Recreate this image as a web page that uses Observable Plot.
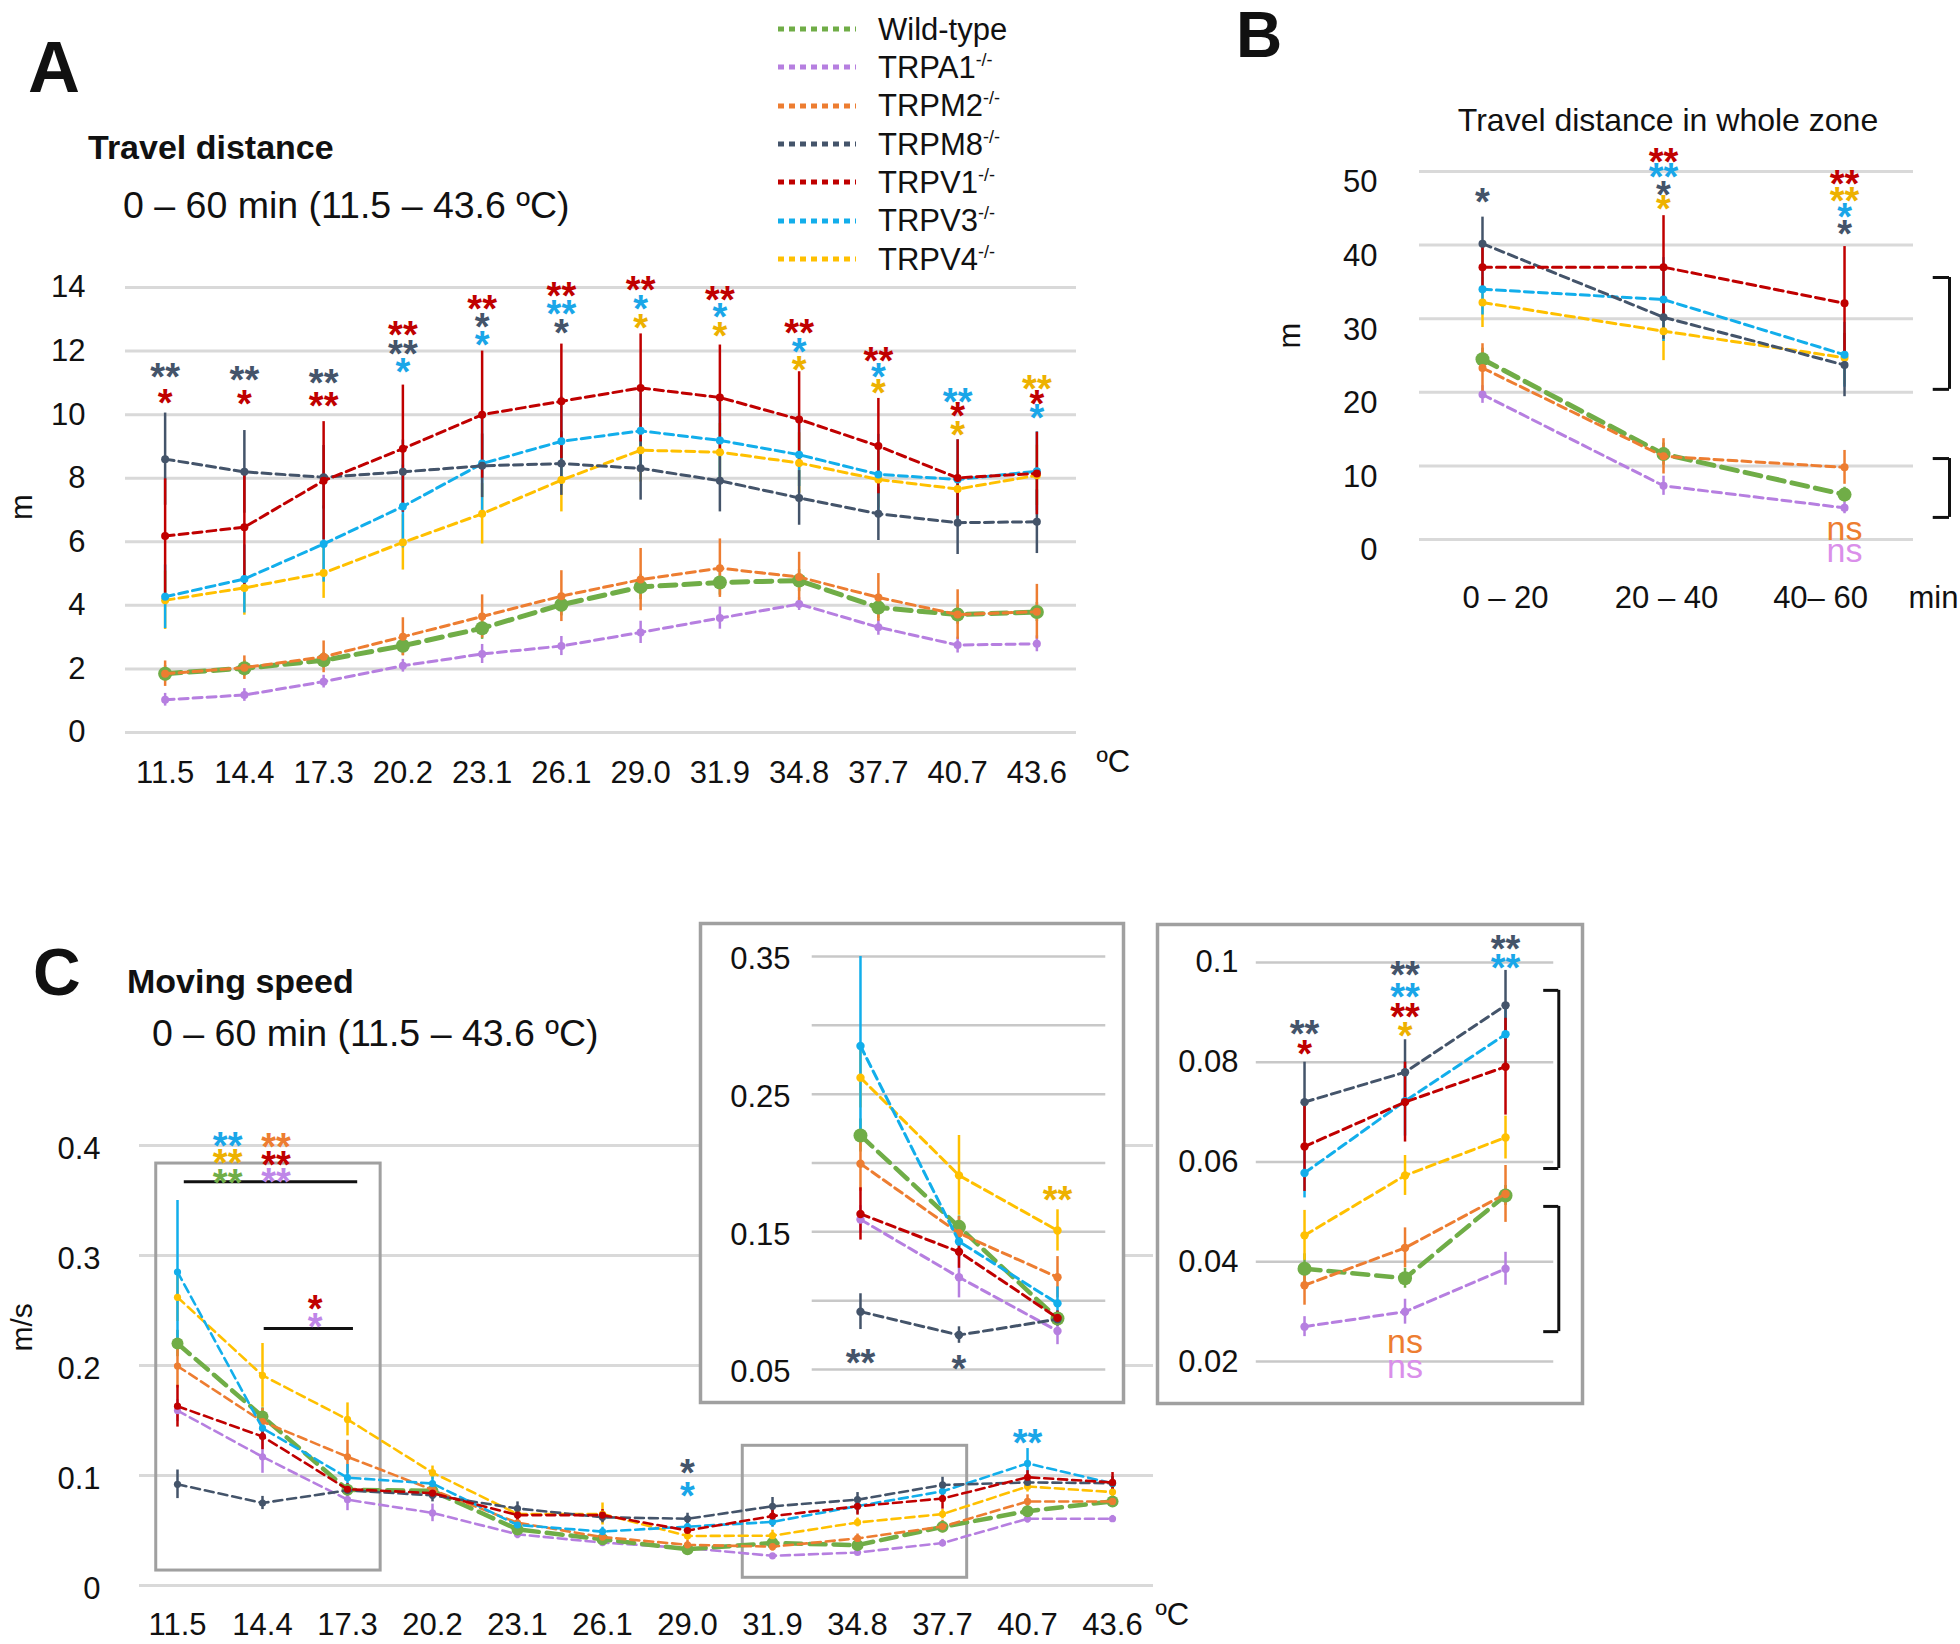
<!DOCTYPE html>
<html><head><meta charset="utf-8">
<script src="https://cdn.jsdelivr.net/npm/d3@7"></script>
<script src="https://cdn.jsdelivr.net/npm/@observablehq/plot@0.6"></script>
<style>
body{margin:0;background:#fff;}
#root{position:relative;width:1960px;height:1644px;background:#fff;font-family:"Liberation Sans",Arial,Helvetica,sans-serif;color:#111;overflow:hidden;}
.abs{position:absolute;white-space:nowrap;line-height:1;}
#root svg{position:absolute;}
</style></head><body><div id="root"></div>
<script>
// ---------- categories & colours ----------
const series = ["Wild-type","TRPA1","TRPM2","TRPM8","TRPV1","TRPV3","TRPV4"];
const seriesColors = ["#70AD47","#B67FE0","#ED7D31","#44546A","#C00000","#12AEEB","#FFC000"];
const drawOrder = ["TRPA1","Wild-type","TRPM2","TRPV4","TRPV3","TRPM8","TRPV1"];
const tempLabels = ["11.5","14.4","17.3","20.2","23.1","26.1","29.0","31.9","34.8","37.7","40.7","43.6"];
const periodLabels = ["0 – 20","20 – 40","40– 60"];
const periodLabelShift = [23,3,-24];

// ---------- Panel A: travel distance (m) per temperature ----------
const distWT   = [1.85,2.02,2.27,2.73,3.28,4.02,4.58,4.72,4.78,3.93,3.71,3.79];
const distWTse = [0.25,0.25,0.25,0.3,0.35,0.35,0.4,0.4,0.35,0.35,0.3,0.3];
const distA1   = [1.03,1.18,1.60,2.10,2.47,2.72,3.15,3.60,4.04,3.31,2.75,2.79];
const distA1se = [0.2,0.2,0.2,0.2,0.3,0.3,0.35,0.35,0.2,0.25,0.25,0.25];
const distM2   = [1.85,2.04,2.38,3.01,3.65,4.29,4.81,5.17,4.89,4.25,3.71,3.80];
const distM2se = [0.4,0.37,0.5,0.6,0.68,0.8,0.98,0.92,0.78,0.75,0.78,0.86];
const distM8   = [8.60,8.20,8.03,8.20,8.39,8.46,8.31,7.92,7.38,6.88,6.60,6.63];
const distM8se = [1.45,1.3,1.0,1.0,1.0,1.0,1.0,0.98,0.86,0.84,1.0,1.0];
const distV1   = [6.18,6.46,7.92,8.93,10.0,10.42,10.84,10.54,9.85,9.01,8.01,8.15];
const distV1se = [1.8,1.8,1.86,2.0,2.0,1.8,1.7,1.65,1.5,1.5,1.2,1.3];
const distV3   = [4.27,4.83,5.93,7.11,8.46,9.16,9.49,9.19,8.74,8.12,7.96,8.22];
const distV3se = [1.0,1.07,1.2,1.3,1.5,1.4,1.2,1.2,1.0,1.26,1.25,1.24];
const distV4   = [4.16,4.55,5.02,5.98,6.88,7.94,8.88,8.82,8.48,7.96,7.66,8.09];
const distV4se = [0.92,0.86,0.8,0.87,0.95,1.0,1.0,0.9,0.95,0.9,0.9,0.95];
const ticksA = [0,2,4,6,8,10,12,14];
const starsA = [
  [0,11.46,"**","TRPM8"],[0,10.67,"*","TRPV1"],
  [1,11.37,"**","TRPM8"],[1,10.62,"*","TRPV1"],
  [2,11.29,"**","TRPM8"],[2,10.56,"**","TRPV1"],
  [3,12.78,"**","TRPV1"],[3,12.19,"**","TRPM8"],[3,11.63,"*","TRPV3"],
  [4,13.60,"**","TRPV1"],[4,13.06,"*","TRPM8"],[4,12.49,"*","TRPV3"],
  [5,14.02,"**","TRPV1"],[5,13.46,"**","TRPV3"],[5,12.87,"*","TRPM8"],
  [6,14.21,"**","TRPV1"],[6,13.60,"*","TRPV3"],[6,13.03,"*","TRPV4"],
  [7,13.90,"**","TRPV1"],[7,13.35,"*","TRPV3"],[7,12.75,"*","TRPV4"],
  [8,12.87,"**","TRPV1"],[8,12.27,"*","TRPV3"],[8,11.69,"*","TRPV4"],
  [9,11.99,"**","TRPV1"],[9,11.48,"*","TRPV3"],[9,10.96,"*","TRPV4"],
  [10,10.70,"**","TRPV3"],[10,10.25,"*","TRPV1"],[10,9.66,"*","TRPV4"],
  [11,11.10,"**","TRPV4"],[11,10.62,"*","TRPV1"],[11,10.17,"*","TRPV3"]
];

// ---------- Panel B: travel distance in whole zone (m) per period ----------
const zoneWT = [24.5,11.6,6.1],  zoneWTse = [1.5,1.5,1.0];
const zoneA1 = [19.7,7.3,4.3],   zoneA1se = [1.2,1.3,0.8];
const zoneM2 = [23.3,11.3,9.8],  zoneM2se = [3.3,2.4,2.3];
const zoneM8 = [40.2,30.2,23.7], zoneM8se = [3.6,3.0,4.3];
const zoneV1 = [37.0,37.0,32.1], zoneV1se = [3.5,7.0,7.7];
const zoneV3 = [34.0,32.6,25.1], zoneV3se = [3.5,5.7,4.4];
const zoneV4 = [32.2,28.3,24.7], zoneV4se = [3.4,4.0,3.7];
const ticksB = [0,10,20,30,40,50];
const starsB = [[0,47.1,"*","TRPM8"],[1,52.6,"**","TRPV1"],[1,50.5,"**","TRPV3"],[1,48.1,"*","TRPM8"],[1,46.1,"*","TRPV4"],
  [2,49.5,"**","TRPV1"],[2,47.3,"**","TRPV4"],[2,45.0,"*","TRPV3"],[2,42.8,"*","TRPM8"]];
const nsB = [[2,1.2,"TRPM2"],[2,-1.9,"TRPA1"]];
const bracketsB = [[35.6,20.4],[11.0,3.0]];

// ---------- Panel C: moving speed (m/s) per temperature ----------
const speedWT   = [0.220,0.1536,0.087,0.086,0.051,0.042,0.033,0.0386,0.0367,0.0533,0.0676,0.0764];
const speedWTse = [0.012,0.008,0.004,0.004,0.003,0.003,0.003,0.003,0.002,0.002,0.003,0.003];
const speedA1   = [0.159,0.117,0.078,0.066,0.0465,0.039,0.034,0.027,0.030,0.0386,0.0607,0.0607];
const speedA1se = [0.01,0.015,0.01,0.008,0.004,0.003,0.003,0.002,0.0025,0.0033,0.004,0.003];
const speedM2   = [0.1995,0.149,0.117,0.087,0.057,0.044,0.037,0.0353,0.0428,0.0536,0.0764,0.0764];
const speedM2se = [0.02,0.012,0.015,0.005,0.004,0.003,0.004,0.004,0.004,0.0057,0.006,0.005];
const speedM8   = [0.092,0.075,0.0865,0.082,0.070,0.062,0.0607,0.072,0.078,0.0914,0.0937,0.093];
const speedM8se = [0.013,0.006,0.005,0.006,0.006,0.005,0.005,0.008,0.0065,0.007,0.006,0.006];
const speedV1   = [0.163,0.1355,0.0875,0.084,0.064,0.064,0.050,0.0631,0.072,0.0791,0.0984,0.0937];
const speedV1se = [0.019,0.012,0.005,0.005,0.005,0.005,0.005,0.009,0.008,0.0097,0.006,0.009];
const speedV3   = [0.285,0.143,0.098,0.0927,0.055,0.049,0.0535,0.0578,0.0722,0.0856,0.111,0.0928];
const speedV3se = [0.065,0.012,0.012,0.006,0.005,0.004,0.005,0.005,0.007,0.006,0.0135,0.006];
const speedV4   = [0.262,0.191,0.151,0.1026,0.065,0.065,0.045,0.0453,0.0573,0.0649,0.090,0.0849];
const speedV4se = [0.022,0.029,0.015,0.006,0.004,0.01,0.004,0.005,0.004,0.0043,0.005,0.005];
const ticksC = [0,0.1,0.2,0.3,0.4];
const starsC = [[0.59,0.408,"**","TRPV3"],[0.59,0.392,"**","TRPV4"],[0.59,0.3745,"**","Wild-type"],
  [1.16,0.407,"**","TRPM2"],[1.16,0.391,"**","TRPV1"],[1.16,0.375,"**","TRPA1"],
  [1.62,0.26,"*","TRPV1"],[1.62,0.2436,"*","TRPA1"],
  [6,0.111,"*","TRPM8"],[6,0.090,"*","TRPV3"],[10,0.138,"**","TRPV3"]];
const sigLinesC = [[0.08,2.12,0.367],[1.02,2.07,0.2336]];
const zoomBoxesC = [[-0.25,2.39,0.0136,0.3836],[6.65,9.29,0.007,0.127]];
// inset 1 (11.5–17.3 ºC) and inset 2 (31.9–37.7 ºC)
const inset1Idx = [0,1,2], inset2Idx = [7,8,9];
const ticksIn1 = [0.05,0.15,0.25,0.35], gridIn1 = [0.05,0.10,0.15,0.20,0.25,0.30,0.35];
const ticksIn2 = [0.02,0.04,0.06,0.08,0.1];
const starsIn1 = [[0,0.0616,"**","TRPM8"],[1,0.0567,"*","TRPM8"],[2,0.180,"**","TRPV4"]];
const starsIn2 = [[0,0.0874,"**","TRPM8"],[0,0.0834,"*","TRPV1"],[1,0.0993,"**","TRPM8"],[1,0.095,"**","TRPV3"],
  [1,0.0908,"**","TRPV1"],[1,0.087,"*","TRPV4"],[2,0.1046,"**","TRPM8"],[2,0.1008,"**","TRPV3"]];
const nsIn2 = [[1,0.0236,"TRPM2"],[1,0.0185,"TRPA1"]];
const bracketsIn2 = [[0.0944,0.0587],[0.0511,0.026]];

// ---------- helpers ----------
const colorOf = Object.fromEntries(series.map((s,i)=>[s,seriesColors[i]]));
const starColor = {...colorOf, "TRPV4":"#EDB100", "TRPV3":"#1AA6E8", "TRPA1":"#BF86E8"};
const nsColor = {"TRPM2":"#ED7D31","TRPA1":"#DA8FEA"};
function table(means, ses) {
  const rows = [];
  series.forEach((s,k)=>means[k].forEach((v,i)=>rows.push({s, x:i, v, e:ses[k][i]})));
  return rows;
}
const rowsA = table([distWT,distA1,distM2,distM8,distV1,distV3,distV4],[distWTse,distA1se,distM2se,distM8se,distV1se,distV3se,distV4se]);
const rowsB = table([zoneWT,zoneA1,zoneM2,zoneM8,zoneV1,zoneV3,zoneV4],[zoneWTse,zoneA1se,zoneM2se,zoneM8se,zoneV1se,zoneV3se,zoneV4se]);
const rowsC = table([speedWT,speedA1,speedM2,speedM8,speedV1,speedV3,speedV4],[speedWTse,speedA1se,speedM2se,speedM8se,speedV1se,speedV3se,speedV4se]);
const subset = (rows, idx) => rows.filter(r=>idx.includes(r.x)).map(r=>({...r, x: idx.indexOf(r.x)}));

function seriesMarks(rows, o) {
  const m = [];
  for (const s of drawOrder) {
    const d = rows.filter(r=>r.s===s), c = colorOf[s];
    m.push(Plot.ruleX(d, {x:"x", y1:r=>r.v-r.e, y2:r=>r.v+r.e, stroke:c, strokeWidth:o.ew}));
  }
  for (const s of drawOrder) {
    const d = rows.filter(r=>r.s===s), c = colorOf[s], wt = s==="Wild-type";
    m.push(Plot.line(d, {x:"x", y:"v", stroke:c, strokeWidth: wt?o.lwWT:o.lw, strokeDasharray: wt?o.dashWT:o.dash}));
    m.push(Plot.dot(d, {x:"x", y:"v", fill:c, r: wt?o.rWT:o.r}));
  }
  return m;
}
function stars(arr, fs=38) {
  return Plot.text(arr, {x:d=>d[0], y:d=>d[1], text:d=>d[2], fill:d=>starColor[d[3]], fontSize:fs, fontWeight:"bold", dy:Math.round(fs*0.26)});
}
function nsText(arr) {
  return Plot.text(arr, {x:d=>d[0], y:d=>d[1], text:()=>"ns", fill:d=>nsColor[d[2]], fontSize:34, dy:-2});
}
function brackets(arr, x0, x1) {
  return [
    Plot.ruleX(arr, {x:()=>x1, y1:d=>d[0], y2:d=>d[1], stroke:"#111", strokeWidth:3}),
    Plot.ruleY(arr.flatMap(d=>[d[0],d[1]]), {y:d=>d, x1:()=>x0, x2:()=>x1, stroke:"#111", strokeWidth:3})
  ];
}
const root = document.getElementById("root");
function panel({left, top, width, height, frame, xDomain, yDomain, fontSize=29, xAxis=true, marks}) {
  const [fx0, fx1, fy0, fy1] = frame;
  const svg = Plot.plot({
    width, height,
    marginLeft: fx0-left, marginRight: left+width-fx1, marginTop: fy0-top, marginBottom: top+height-fy1,
    x: {domain:xDomain, label:null, ...(xAxis?{}:{axis:null})},
    y: {domain:yDomain, label:null},
    color: {type:"identity"},
    style: {background:"transparent", overflow:"visible", fontFamily:"'Liberation Sans', Arial, sans-serif", fontSize:fontSize+"px", color:"#111"},
    marks
  });
  svg.style.left = left+"px"; svg.style.top = top+"px";
  root.appendChild(svg);
}
function addText(html, x, baseline, fs, {bold=false, anchor="start", color="#111"}={}) {
  const el = document.createElement("div");
  el.className = "abs"; el.innerHTML = html;
  el.style.fontSize = fs+"px"; el.style.left = x+"px"; el.style.top = (baseline-0.8465*fs)+"px";
  el.style.color = color; if (bold) el.style.fontWeight = "bold";
  if (anchor==="middle") el.style.transform = "translateX(-50%)";
  root.appendChild(el);
}
const lineStyle = {ew:2.5, lw:3, lwWT:5, dash:"9,5", dashWT:"16,8", r:4, rWT:7};

// ---------- Panel A ----------
panel({
  left:0, top:240, width:1140, height:570, frame:[125,1076,287,732],
  xDomain:[-0.5,11.5], yDomain:[0,14], fontSize:31,
  marks:[
    Plot.ruleY(ticksA, {stroke:"#D9D9D9", strokeWidth:3}),
    Plot.axisY({ticks:ticksA, tickSize:0, tickPadding:40, label:null}),
    Plot.axisX({ticks:d3.range(12), tickFormat:i=>tempLabels[i], tickSize:0, tickPadding:28, label:null}),
    Plot.text(["ºC"], {frameAnchor:"bottom-right", dx:20, dy:39, textAnchor:"start"}),
    Plot.text(["m"], {frameAnchor:"left", dx:-103, dy:10, rotate:-90}),
    ...seriesMarks(rowsA, lineStyle),
    stars(starsA)
  ]
});
addText("A", 28, 92, 72, {bold:true});
addText("Travel distance", 88, 159, 34, {bold:true});
addText("0 – 60 min (11.5 – 43.6 ºC)", 123, 219, 37.5);

// legend
series.forEach((s,i)=>{
  const cy = 29 + i*38.3;
  const sv = document.createElementNS("http://www.w3.org/2000/svg","svg");
  sv.setAttribute("width", 80); sv.setAttribute("height", 12);
  sv.style.left = "777px"; sv.style.top = (cy-6)+"px";
  sv.innerHTML = `<line x1="1" y1="6" x2="79" y2="6" stroke="${colorOf[s]}" stroke-width="5" stroke-dasharray="6,5"/>`;
  root.appendChild(sv);
  const label = s==="Wild-type" ? s : `${s}<span style="font-size:18px;position:relative;top:-12px">-/-</span>`;
  addText(label, 878, cy+11, 31);
});

// ---------- Panel B ----------
panel({
  left:1270, top:130, width:690, height:510, frame:[1419,1913,171,539],
  xDomain:[-0.348,2.381], yDomain:[0,50], fontSize:31, xAxis:false,
  marks:[
    Plot.ruleY(ticksB, {stroke:"#D9D9D9", strokeWidth:3}),
    Plot.axisY({ticks:ticksB, tickSize:0, tickPadding:42, dy:11, label:null}),
    ...periodLabels.map((lab,i)=>Plot.text([lab], {x:()=>i, frameAnchor:"bottom", dy:68, dx:periodLabelShift[i]})),
    Plot.text(["min"], {frameAnchor:"bottom-right", dx:-5, dy:68, textAnchor:"start"}),
    Plot.text(["m"], {frameAnchor:"left", dx:-129, dy:-7, rotate:-90}),
    ...seriesMarks(rowsB, lineStyle),
    stars(starsB),
    nsText(nsB),
    ...brackets(bracketsB, 2.49, 2.58)
  ]
});
addText("B", 1236, 57, 64, {bold:true});
addText("Travel distance in whole zone", 1668, 131, 32, {anchor:"middle"});

// ---------- Panel C (main) ----------
panel({
  left:0, top:1100, width:1200, height:544, frame:[139,1153,1145,1585],
  xDomain:[-0.447,11.482], yDomain:[0,0.4], fontSize:31,
  marks:[
    Plot.ruleY(ticksC, {stroke:"#D9D9D9", strokeWidth:3}),
    Plot.axisY({ticks:ticksC, tickFormat:d=>d===0?"0":String(d), tickSize:0, tickPadding:39, dy:4, label:null}),
    Plot.axisX({ticks:d3.range(12), tickFormat:i=>tempLabels[i], tickSize:0, tickPadding:27, label:null}),
    Plot.text(["ºC"], {frameAnchor:"bottom-right", dx:2, dy:39, textAnchor:"start"}),
    Plot.text(["m/s"], {frameAnchor:"left", dx:-117, dy:-14, rotate:-90, fontSize:30}),
    Plot.rect(zoomBoxesC, {x1:d=>d[0], x2:d=>d[1], y1:d=>d[2], y2:d=>d[3], fill:"none", stroke:"#A0A0A0", strokeWidth:3}),
    ...seriesMarks(rowsC, {...lineStyle, lw:2.6, lwWT:4.5, r:3.6, rWT:6}),
    Plot.ruleY(sigLinesC, {x1:d=>d[0], x2:d=>d[1], y:d=>d[2], stroke:"#111", strokeWidth:3}),
    stars(starsC)
  ]
});
addText("C", 33, 995, 66, {bold:true});
addText("Moving speed", 127, 993, 34, {bold:true});
addText("0 – 60 min (11.5 – 43.6 ºC)", 152, 1047, 37.5);

// ---------- Inset 1 ----------
panel({
  left:698, top:921, width:427, height:483, frame:[700,1123,923,1402],
  xDomain:[-1.624,2.670], yDomain:[0.026,0.374], fontSize:31, xAxis:false,
  marks:[
    Plot.frame({fill:"white", stroke:"#A0A0A0", strokeWidth:3.5}),
    Plot.ruleY(gridIn1, {x1:()=>-0.49, x2:()=>2.49, stroke:"#C8C8C8", strokeWidth:2.5}),
    Plot.axisY({ticks:ticksIn1, tickFormat:d3.format(".2f"), tickSize:0, tickPadding:-90, dy:3, label:null}),
    ...seriesMarks(subset(rowsC, inset1Idx), {...lineStyle, lw:3, lwWT:4.5, r:4.2, rWT:7}),
    stars(starsIn1)
  ]
});

// ---------- Inset 2 ----------
panel({
  left:1155, top:922, width:429, height:483, frame:[1157,1582,924,1403],
  xDomain:[-1.463,2.766], yDomain:[0.0116,0.1076], fontSize:31, xAxis:false,
  marks:[
    Plot.frame({fill:"white", stroke:"#A0A0A0", strokeWidth:3.5}),
    Plot.ruleY(ticksIn2, {x1:()=>-0.48, x2:()=>2.48, stroke:"#C8C8C8", strokeWidth:2.5}),
    Plot.axisY({ticks:ticksIn2, tickFormat:d=>d===0.1?"0.1":d.toFixed(2), tickSize:0, tickPadding:-81, label:null}),
    ...seriesMarks(subset(rowsC, inset2Idx), {...lineStyle, lw:3, lwWT:4.5, r:4.2, rWT:7}),
    stars(starsIn2),
    nsText(nsIn2),
    ...brackets(bracketsIn2, 2.38, 2.53)
  ]
});
</script></body></html>
